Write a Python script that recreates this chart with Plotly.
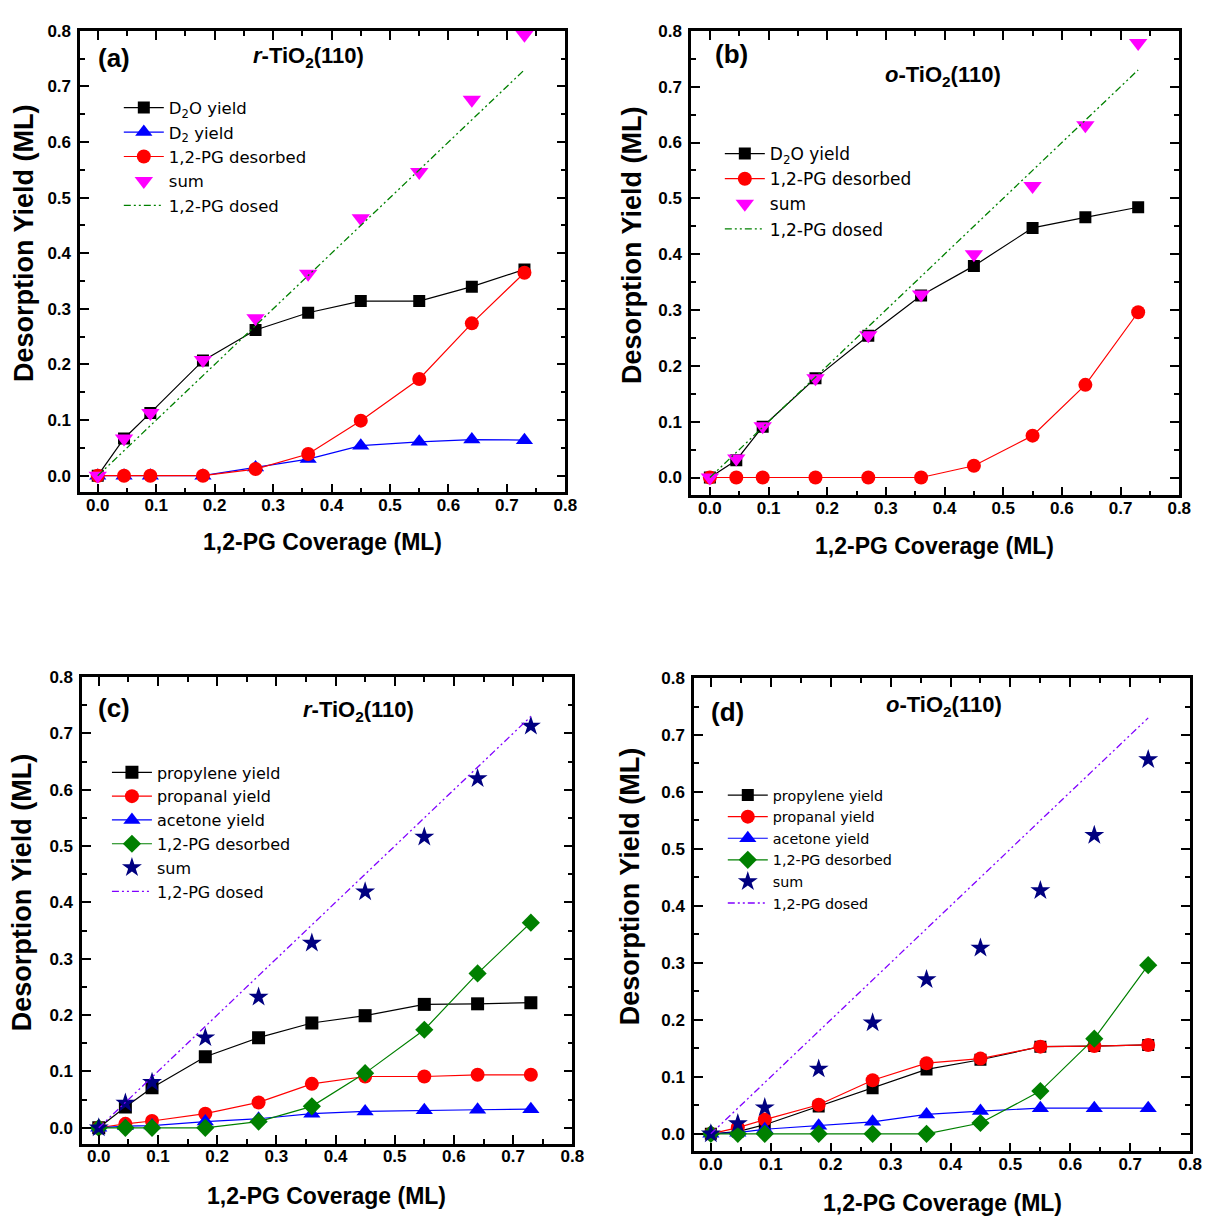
import plotly.graph_objects as go

W, H = 1216, 1218

coverage = [0, 0.045, 0.09, 0.18, 0.27, 0.36, 0.45, 0.55, 0.64, 0.73]
dosed = [0, 0.045, 0.09, 0.18, 0.27, 0.36, 0.45, 0.55, 0.64, 0.73]

# panel (a) r-TiO2(110)
a_d2o = [0, 0.067, 0.113, 0.207, 0.262, 0.293, 0.314, 0.314, 0.340, 0.371]
a_d2 = [0, 0, 0, 0, 0.015, 0.030, 0.054, 0.061, 0.065, 0.064]
a_pg = [0, 0, 0, 0, 0.012, 0.039, 0.099, 0.174, 0.274, 0.365]
a_sum = [0, 0.067, 0.113, 0.208, 0.283, 0.363, 0.463, 0.546, 0.676, 0.793]

# panel (b) o-TiO2(110)
b_d2o = [0, 0.031, 0.091, 0.178, 0.254, 0.326, 0.379, 0.447, 0.466, 0.484]
b_pg = [0, 0, 0, 0, 0, 0, 0.021, 0.075, 0.166, 0.296]
b_sum = [0, 0.034, 0.092, 0.178, 0.255, 0.328, 0.400, 0.522, 0.631, 0.778]

# panel (c) r-TiO2(110)
c_propylene = [0, 0.037, 0.071, 0.126, 0.160, 0.186, 0.199, 0.219, 0.220, 0.222]
c_propanal = [0, 0.007, 0.012, 0.025, 0.045, 0.078, 0.091, 0.091, 0.094, 0.094]
c_acetone = [0, 0.003, 0.004, 0.011, 0.016, 0.025, 0.029, 0.031, 0.032, 0.033]
c_pg = [0, 0, 0, 0, 0.011, 0.038, 0.097, 0.174, 0.274, 0.364]
c_sum = [0, 0.044, 0.081, 0.160, 0.232, 0.328, 0.419, 0.516, 0.620, 0.713]

# panel (d) o-TiO2(110)
d_propylene = [0, 0.004, 0.016, 0.048, 0.080, 0.113, 0.130, 0.153, 0.154, 0.156]
d_propanal = [0, 0.011, 0.025, 0.051, 0.094, 0.124, 0.132, 0.153, 0.154, 0.156]
d_acetone = [0, 0.002, 0.008, 0.014, 0.021, 0.034, 0.040, 0.045, 0.045, 0.045]
d_pg = [0, 0, 0, 0, 0, 0, 0.019, 0.075, 0.167, 0.296]
d_sum = [0, 0.018, 0.046, 0.114, 0.195, 0.271, 0.326, 0.427, 0.524, 0.657]

tick_vals = [0, 0.1, 0.2, 0.3, 0.4, 0.5, 0.6, 0.7, 0.8]
tick_text = ["0.0", "0.1", "0.2", "0.3", "0.4", "0.5", "0.6", "0.7", "0.8"]

BLACK, BLUE, RED, MAGENTA = "#000000", "#0000FF", "#FF0000", "#FF00FF"
GREEN, NAVY, VIOLET = "#008000", "#000080", "#8000FF"
DASHDOTDOT = "7px,3px,2px,3px,2px,3px"

def fx(p):
    return p / W

def fy(p):
    return 1 - p / H

fig = go.Figure()

def ax_ids(ax):
    return ("x" if ax == 1 else "x%d" % ax), ("y" if ax == 1 else "y%d" % ax)

def line_trace(x, y, name, color, symbol, size, ax, legend, lw=1.2):
    xa, ya = ax_ids(ax)
    return go.Scatter(x=x, y=y, name=name, mode="lines+markers",
                      line=dict(color=color, width=lw),
                      marker=dict(color=color, symbol=symbol, size=size, line=dict(width=0)),
                      xaxis=xa, yaxis=ya, legend=legend)

def marker_trace(x, y, name, color, symbol, size, ax, legend):
    xa, ya = ax_ids(ax)
    return go.Scatter(x=x, y=y, name=name, mode="markers",
                      marker=dict(color=color, symbol=symbol, size=size, line=dict(width=0)),
                      xaxis=xa, yaxis=ya, legend=legend)

def dosed_trace(x, y, color, ax, legend):
    xa, ya = ax_ids(ax)
    return go.Scatter(x=x, y=y, name="1,2-PG dosed", mode="lines",
                      line=dict(color=color, width=1.3, dash=DASHDOTDOT),
                      xaxis=xa, yaxis=ya, legend=legend)

# (a)
fig.add_trace(line_trace(coverage, a_d2o, "D<sub>2</sub>O yield", BLACK, "square", 12, 1, "legend"))
fig.add_trace(line_trace(coverage, a_d2, "D<sub>2</sub> yield", BLUE, "triangle-up", 15, 1, "legend"))
fig.add_trace(line_trace(coverage, a_pg, "1,2-PG desorbed", RED, "circle", 14, 1, "legend"))
fig.add_trace(marker_trace(coverage, a_sum, "sum", MAGENTA, "triangle-down", 16, 1, "legend"))
fig.add_trace(dosed_trace(coverage, dosed, GREEN, 1, "legend"))

# (b)
fig.add_trace(line_trace(coverage, b_d2o, "D<sub>2</sub>O yield", BLACK, "square", 12, 2, "legend2"))
fig.add_trace(line_trace(coverage, b_pg, "1,2-PG desorbed", RED, "circle", 14, 2, "legend2"))
fig.add_trace(marker_trace(coverage, b_sum, "sum", MAGENTA, "triangle-down", 16, 2, "legend2"))
fig.add_trace(dosed_trace(coverage, dosed, GREEN, 2, "legend2"))

# (c)
fig.add_trace(line_trace(coverage, c_propylene, "propylene yield", BLACK, "square", 13, 3, "legend3"))
fig.add_trace(line_trace(coverage, c_propanal, "propanal yield", RED, "circle", 14, 3, "legend3"))
fig.add_trace(line_trace(coverage, c_acetone, "acetone yield", BLUE, "triangle-up", 15, 3, "legend3"))
fig.add_trace(line_trace(coverage, c_pg, "1,2-PG desorbed", GREEN, "diamond", 14, 3, "legend3"))
fig.add_trace(marker_trace(coverage, c_sum, "sum", NAVY, "star", 15, 3, "legend3"))
fig.add_trace(dosed_trace(coverage, dosed, VIOLET, 3, "legend3"))

# (d)
fig.add_trace(line_trace(coverage, d_propylene, "propylene yield", BLACK, "square", 12, 4, "legend4"))
fig.add_trace(line_trace(coverage, d_propanal, "propanal yield", RED, "circle", 14, 4, "legend4"))
fig.add_trace(line_trace(coverage, d_acetone, "acetone yield", BLUE, "triangle-up", 15, 4, "legend4"))
fig.add_trace(line_trace(coverage, d_pg, "1,2-PG desorbed", GREEN, "diamond", 14, 4, "legend4"))
fig.add_trace(marker_trace(coverage, d_sum, "sum", NAVY, "star", 15, 4, "legend4"))
fig.add_trace(dosed_trace(coverage, dosed, VIOLET, 4, "legend4"))

TICKFONT = dict(family="Liberation Sans, Arial", size=17, color="black", weight="bold")

def axis(domain, anchor, rng, standoff):
    return dict(domain=domain, anchor=anchor, range=rng,
                showline=True, linewidth=2.5, linecolor="black", mirror="allticks",
                ticks="inside", ticklen=9, tickwidth=2, tickcolor="black",
                tickvals=tick_vals, ticktext=tick_text, tickfont=TICKFONT,
                minor=dict(ticks="inside", ticklen=5, tickwidth=2, tickcolor="black", dtick=0.05, tick0=0),
                showgrid=False, zeroline=False, ticklabelstandoff=standoff)

# plot boxes in pixels: (left, right, top, bottom)
boxes = {
    1: (81, 571, 22, 487),
    2: (698, 1191, 22, 490),
    3: (83, 578, 673, 1143),
    4: (701, 1202, 674, 1151),
}
yr = {1: [-0.030, 0.8], 2: [-0.032, 0.8], 3: [-0.028, 0.8], 4: [-0.031, 0.8]}
xr = {1: [-0.030, 0.8], 2: [-0.032, 0.8], 3: [-0.028, 0.8], 4: [-0.028, 0.8]}

layout = {}
for k, (l, r, t, b) in boxes.items():
    xn = "xaxis" if k == 1 else "xaxis%d" % k
    yn = "yaxis" if k == 1 else "yaxis%d" % k
    xa_id, ya_id = ax_ids(k)
    layout[xn] = axis([fx(l), fx(r)], ya_id, xr[k], -5)
    layout[yn] = axis([fy(b), fy(t)], xa_id, yr[k], 3)

LEGFONT = "DejaVu Sans"
def legend(xp, yp, size):
    return dict(x=fx(xp), y=fy(yp), xanchor="left", yanchor="top",
                bgcolor="rgba(0,0,0,0)", borderwidth=0, itemwidth=40,
                font=dict(family=LEGFONT, size=size, color="black"),
                tracegroupgap=0, itemclick=False)

layout["legend"] = legend(120, 82, 16.5)
layout["legend2"] = legend(727, 128, 17)
layout["legend3"] = legend(108, 752, 16)
layout["legend4"] = legend(730, 776, 14.3)

BOLD = "Liberation Sans, Arial"
ann = []
def text(xp, yp, s, size, angle=0):
    ann.append(dict(x=fx(xp), y=fy(yp), xref="paper", yref="paper", text=s,
                    showarrow=False, textangle=angle, xanchor="center", yanchor="middle",
                    font=dict(family=BOLD, size=size, color="black", weight="bold")))

text(115, 49, "(a)", 26)
text(312, 48, "<i>r</i>-TiO<sub>2</sub>(110)", 22)
text(739, 45, "(b)", 26)
text(952, 68, "<i>o</i>-TiO<sub>2</sub>(110)", 22)
text(115, 704, "(c)", 26)
text(362, 707, "<i>r</i>-TiO<sub>2</sub>(110)", 22)
text(735, 708, "(d)", 26)
text(953, 702, "<i>o</i>-TiO<sub>2</sub>(110)", 22)

text(326, 537, "1,2-PG Coverage (ML)", 23)
text(944, 541, "1,2-PG Coverage (ML)", 23)
text(330, 1196, "1,2-PG Coverage (ML)", 23)
text(952, 1203, "1,2-PG Coverage (ML)", 23)

text(25, 236, "Desorption Yield (ML)", 27, -90)
text(639, 238, "Desorption Yield (ML)", 27, -90)
text(23, 890, "Desorption Yield (ML)", 27, -90)
text(637, 884, "Desorption Yield (ML)", 27, -90)

fig.update_layout(width=W, height=H, margin=dict(l=0, r=0, t=0, b=0),
                  paper_bgcolor="white", plot_bgcolor="white",
                  annotations=ann, **layout)

fig.write_html("out.html")
